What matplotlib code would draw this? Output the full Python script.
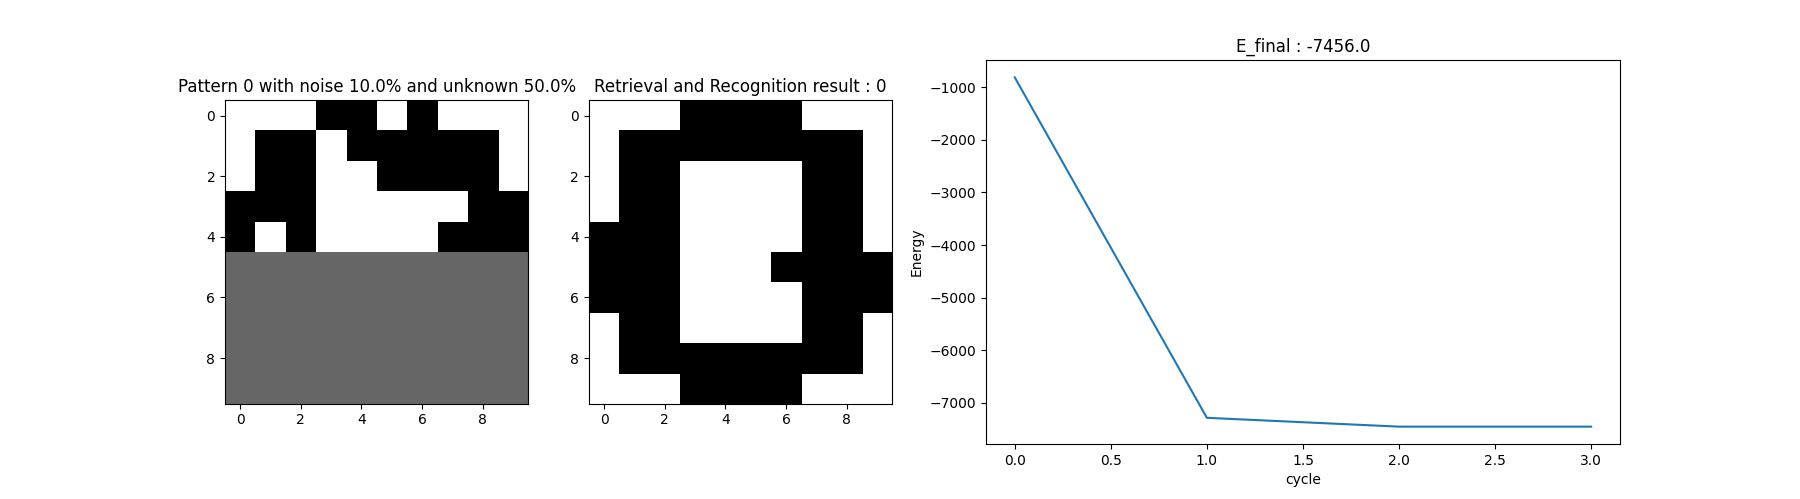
import numpy as np
import matplotlib
matplotlib.use('Agg')
import matplotlib.pyplot as plt

# pattern cells: 1 = white, 0 = black, 0.4 = unknown (drawn gray)
U = 0.4
noisy_pattern = [
	[1, 1, 1, 0, 0, 1, 0, 1, 1, 1],
	[1, 0, 0, 1, 0, 0, 0, 0, 0, 1],
	[1, 0, 0, 1, 1, 0, 0, 0, 0, 1],
	[0, 0, 0, 1, 1, 1, 1, 1, 0, 0],
	[0, 1, 0, 1, 1, 1, 1, 0, 0, 0],
	[U, U, U, U, U, U, U, U, U, U],
	[U, U, U, U, U, U, U, U, U, U],
	[U, U, U, U, U, U, U, U, U, U],
	[U, U, U, U, U, U, U, U, U, U],
	[U, U, U, U, U, U, U, U, U, U],
]

retrieved_pattern = [
	[1, 1, 1, 0, 0, 0, 0, 1, 1, 1],
	[1, 0, 0, 0, 0, 0, 0, 0, 0, 1],
	[1, 0, 0, 1, 1, 1, 1, 0, 0, 1],
	[1, 0, 0, 1, 1, 1, 1, 0, 0, 1],
	[0, 0, 0, 1, 1, 1, 1, 0, 0, 1],
	[0, 0, 0, 1, 1, 1, 0, 0, 0, 0],
	[0, 0, 0, 1, 1, 1, 1, 0, 0, 0],
	[1, 0, 0, 1, 1, 1, 1, 0, 0, 1],
	[1, 0, 0, 0, 0, 0, 0, 0, 0, 1],
	[1, 1, 1, 0, 0, 0, 0, 1, 1, 1],
]

cycles = [0, 1, 2, 3]
energy = [-810, -7288, -7456, -7456]

pattern_id = 0
noise = 10.0
unknown = 50.0
result = 0


def main():
	fig = plt.figure(figsize=(18, 4.99), dpi=100)

	ax1 = fig.add_subplot(1, 4, 1)
	ax1.imshow(np.array(noisy_pattern), cmap='gray', vmin=0, vmax=1)
	ax1.set_title('Pattern {} with noise {}% and unknown {}%'.format(pattern_id, noise, unknown))

	ax2 = fig.add_subplot(1, 4, 2)
	ax2.imshow(np.array(retrieved_pattern), cmap='gray', vmin=0, vmax=1)
	ax2.set_title('Retrieval and Recognition result : {}'.format(result))

	ax3 = fig.add_subplot(1, 2, 2)
	ax3.plot(cycles, energy)
	ax3.set_xlabel('cycle')
	ax3.set_ylabel('Energy')
	ax3.set_title('E_final : {}'.format(float(energy[-1])))

	plt.savefig('out.png', dpi=100)


if __name__ == '__main__':
	main()
